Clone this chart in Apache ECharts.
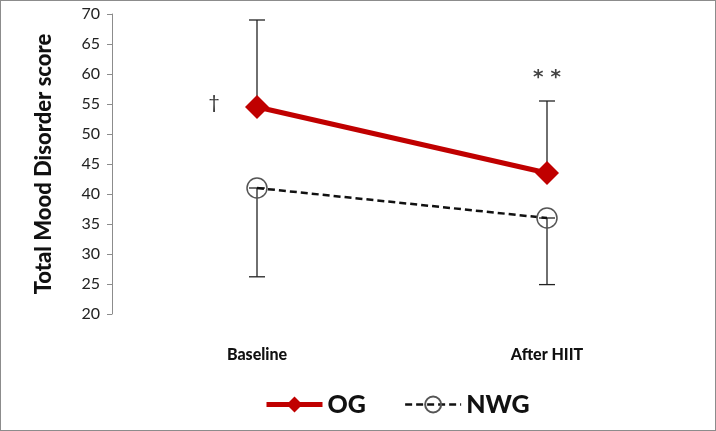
<!DOCTYPE html>
<html>
<head>
<meta charset="utf-8">
<script src="https://cdn.jsdelivr.net/npm/echarts@6/dist/echarts.min.js"></script>
<style>
  html, body { margin: 0; padding: 0; background: #fff; }
  #main { width: 716px; height: 431px; box-sizing: border-box; border: 1px solid #8c8c8c; }
</style>
</head>
<body>
<div id="main"></div>
<script>
const categories = ['Baseline', 'After HIIT'];
const ogMean = [54.5, 43.5];
const ogUpper = [69, 55.5];
const nwgMean = [41, 36];
const nwgLower = [26.2, 24.9];
const yTicks = [20, 70, 5]; // min, max, step

const FONT = 'Lato, "Open Sans", sans-serif';

function errorBar(lows, highs, z) {
  return {
    type: 'custom',
    z: z,
    silent: true,
    data: categories.map((c, i) => [i, lows[i], highs[i]]),
    renderItem(params, api) {
      const top = api.coord([api.value(0), api.value(2)]);
      const bot = api.coord([api.value(0), api.value(1)]);
      const w = 8;
      const style = { stroke: '#222', lineWidth: 1.3 };
      return {
        type: 'group',
        children: [
          { type: 'line', shape: { x1: top[0], y1: top[1], x2: bot[0], y2: bot[1] }, style },
          { type: 'line', shape: { x1: top[0] - w, y1: top[1], x2: top[0] + w, y2: top[1] }, style },
          { type: 'line', shape: { x1: bot[0] - w, y1: bot[1], x2: bot[0] + w, y2: bot[1] }, style }
        ]
      };
    }
  };
}

const chart = echarts.init(document.getElementById('main'));
chart.setOption({
  animation: false,
  grid: { left: 111, right: 23, top: 13, bottom: 116, containLabel: false },
  legend: {
    bottom: 8,
    left: 258,
    itemWidth: 56,
    itemHeight: 20,
    itemGap: 38,
    textStyle: { fontFamily: FONT, fontWeight: 900, fontSize: 25, color: '#111' },
    data: [
      { name: 'OG', lineStyle: { width: 5 } },
      { name: 'NWG', lineStyle: { width: 2.5 } }
    ]
  },
  xAxis: {
    type: 'category',
    data: categories,
    axisLine: { show: false },
    axisTick: { show: false },
    axisLabel: { margin: 33, fontFamily: FONT, fontWeight: 900, fontSize: 16, color: '#111' }
  },
  yAxis: {
    type: 'value',
    min: yTicks[0],
    max: yTicks[1],
    interval: yTicks[2],
    name: 'Total Mood Disorder score',
    nameLocation: 'middle',
    nameGap: 57,
    nameTextStyle: { fontFamily: FONT, fontWeight: 900, fontSize: 22, color: '#111' },
    axisLine: { show: true, lineStyle: { color: '#8c8c8c' } },
    axisTick: { show: true, length: 5, lineStyle: { color: '#8c8c8c' } },
    axisLabel: { margin: 12, fontFamily: FONT, fontSize: 16, color: '#222' },
    splitLine: { show: false }
  },
  series: [
    errorBar(ogMean, ogUpper, 1),
    errorBar(nwgLower, nwgMean, 1),
    {
      name: 'OG',
      type: 'line',
      z: 3,
      data: ogMean,
      symbol: 'diamond',
      symbolSize: 24,
      lineStyle: { color: '#c00000', width: 5 },
      itemStyle: { color: '#c00000' },
      markPoint: {
        symbol: 'circle',
        symbolSize: 1,
        itemStyle: { color: 'transparent' },
        label: { show: true, fontFamily: FONT, fontSize: 20, color: '#333' },
        data: [
          { coord: ['Baseline', 55.2], value: '†', label: { formatter: '†', offset: [-43, 0] } },
          { coord: ['After HIIT', 60.3], value: '**', label: { formatter: '* *', offset: [0, 6], fontSize: 20, fontWeight: 'bold', fontFamily: '"DejaVu Sans", sans-serif', color: '#444' } }
        ]
      }
    },
    {
      name: 'NWG',
      type: 'line',
      z: 3,
      data: nwgMean,
      symbol: 'circle',
      symbolSize: 20,
      lineStyle: { color: '#111', width: 2.5, type: [7, 4] },
      itemStyle: { color: 'transparent', borderColor: '#555', borderWidth: 1.5 }
    }
  ]
});
</script>
</body>
</html>
